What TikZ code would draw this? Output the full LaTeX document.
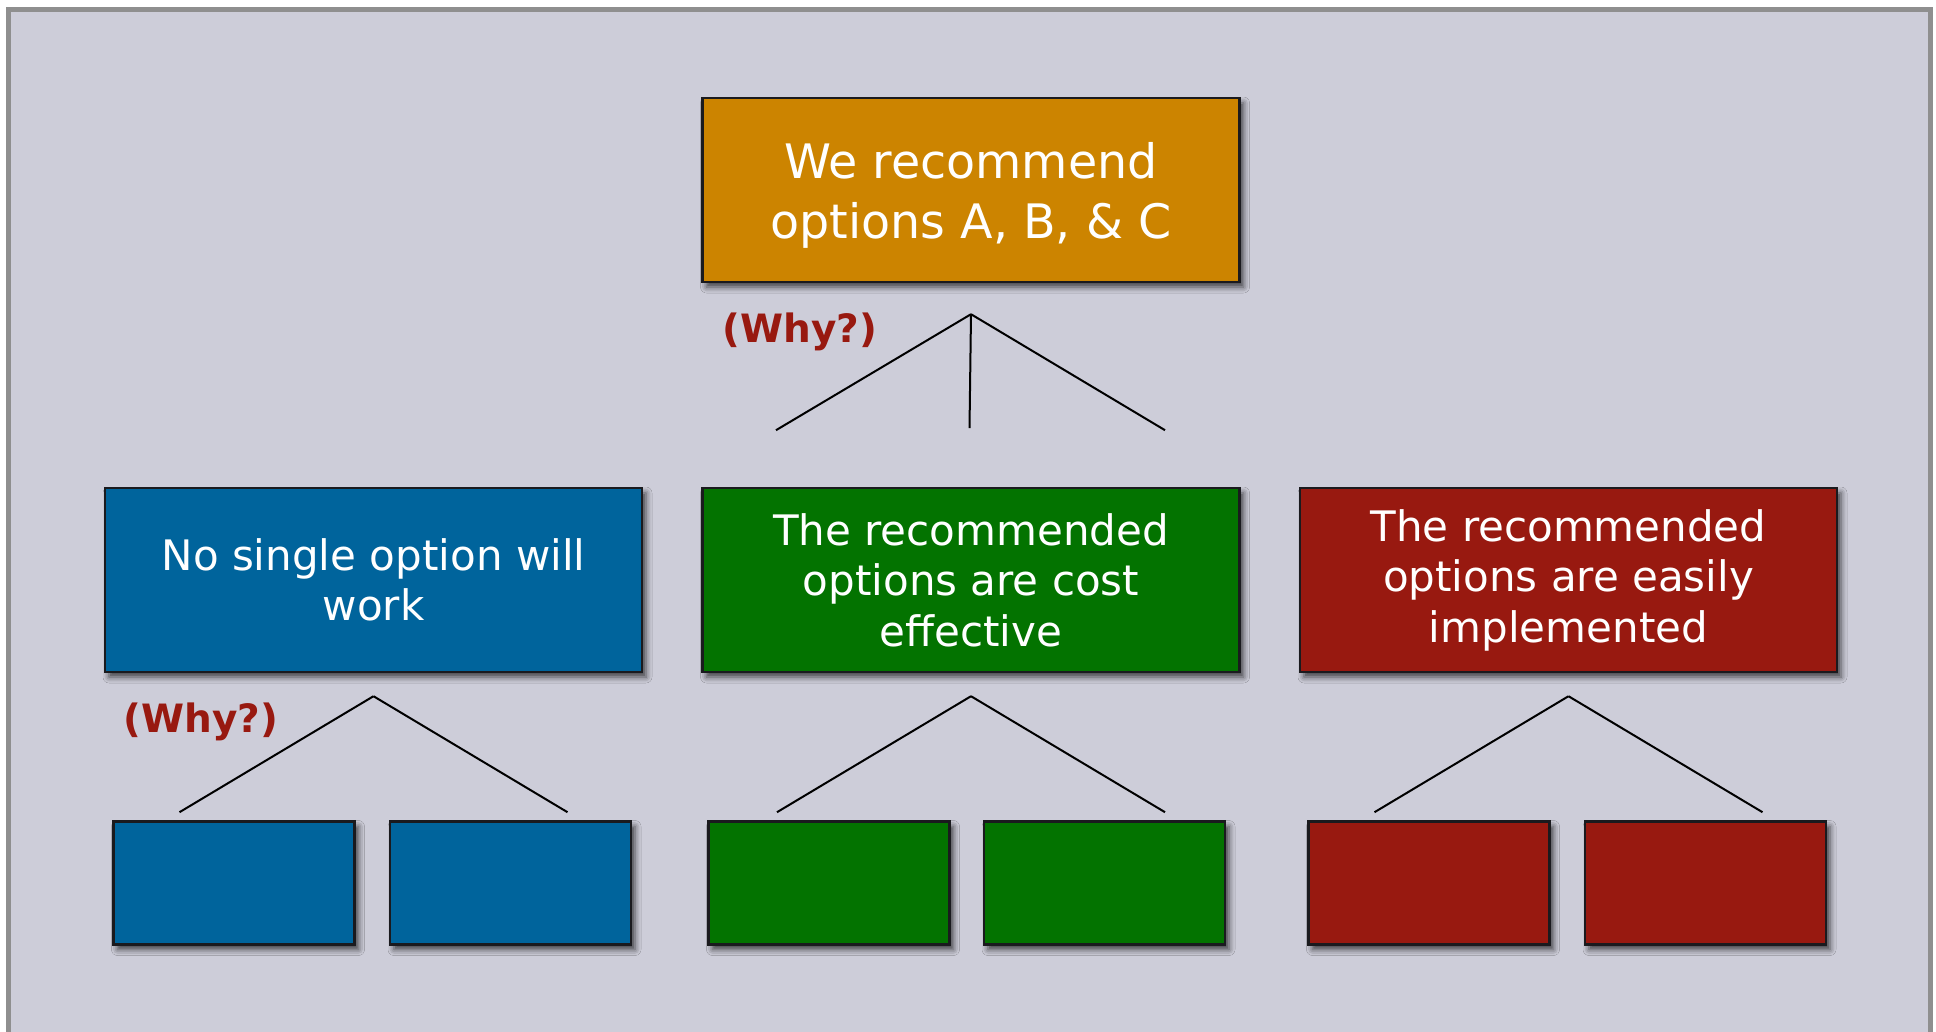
\documentclass[tikz,border=0pt]{standalone}
\usepackage{fontspec}
\setmainfont{DejaVu Sans}
\usetikzlibrary{shadows.blur}

\definecolor{panelbg}{RGB}{205,205,217}
\definecolor{panelline}{RGB}{143,143,143}
\definecolor{boxline}{RGB}{26,26,30}
\definecolor{mainorange}{RGB}{204,132,0}
\definecolor{argblue}{RGB}{0,100,156}
\definecolor{arggreen}{RGB}{3,115,0}
\definecolor{argred}{RGB}{152,25,16}

\tikzset{
    box/.style={draw=boxline, line width=2.4pt, text=white, align=center,
        blur shadow={shadow xshift=4pt, shadow yshift=-5pt,
            shadow blur radius=6pt, shadow opacity=70}},
    bigbox/.style={box, minimum width=537pt, minimum height=184pt},
    smallbox/.style={box, minimum width=241pt, minimum height=123pt},
    fork/.style={draw=black, line width=2pt},
    why/.style={text=argred, font=\bfseries\fontsize{39}{46}\selectfont}
}

\begin{document}
\begin{tikzpicture}[x=1pt, y=-1pt]
        \useasboundingbox (0,0) rectangle (1936,1031);
        % Panel behind everything
        \draw[draw=panelline, line width=5pt, fill=panelbg] (8.5,9.5) rectangle (1930,1045);

        % Main claim
        \node[bigbox, fill=mainorange, text depth=0pt, font=\fontsize{47.5}{60}\selectfont] (claim) at (971,190)
            {We recommend\\options A, B, \& C};

        % Supporting points
        \node[bigbox, fill=argblue, font=\fontsize{42}{50.5}\selectfont] (single) at (373.5,580)
            {No single option will\\work};
        \node[bigbox, fill=arggreen, font=\fontsize{42}{50.5}\selectfont] (cost) at (971,580)
            {The recommended\\options are cost\\effective};
        \node[bigbox, fill=argred, font=\fontsize{42}{50.5}\selectfont] (easy) at (1568.5,580)
            {The recommended\\options are easily\\implemented};

        % Empty boxes on the lowest level
        \node[smallbox, fill=argblue] (single1) at (234,883) {};
        \node[smallbox, fill=argblue] (single2) at (510.5,883) {};
        \node[smallbox, fill=arggreen] (cost1) at (829,883) {};
        \node[smallbox, fill=arggreen] (cost2) at (1104.5,883) {};
        \node[smallbox, fill=argred] (easy1) at (1429,883) {};
        \node[smallbox, fill=argred] (easy2) at (1705.5,883) {};

        % Forks under the boxes
        \coordinate (claimfork) at ([yshift=-31pt]claim.south);
        \draw[fork] (claimfork) -- ++(-195,116);
        \draw[fork] (claimfork) -- ++(-1.5,114);
        \draw[fork] (claimfork) -- ++(194,116);

        \foreach \parent in {single, cost, easy} {
            \coordinate (\parent fork) at ([yshift=-23pt]\parent.south);
            \draw[fork] (\parent fork) -- ++(-194,116);
            \draw[fork] (\parent fork) -- ++(194,116);
        }

        % The questions
        \node[why] (whytop) at (800,332) {(Why?)};
        \node[why] (whyleft) at (201,722) {(Why?)};
    \end{tikzpicture}
\end{document}
